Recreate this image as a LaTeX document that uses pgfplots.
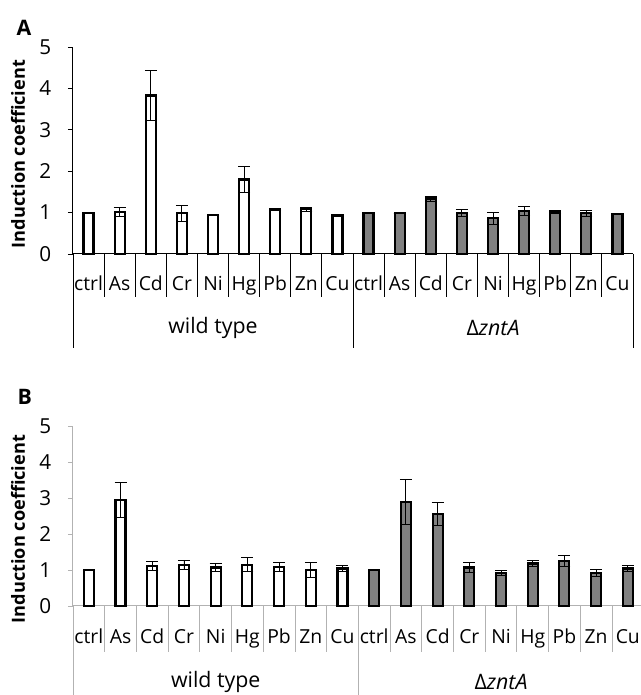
\documentclass[border=0pt]{standalone}
\usepackage{pgfplots}
\usepackage{pgfplotstable}
\pgfplotsset{compat=1.18}
\usepackage{fontspec}
\setmainfont{Open Sans}
\begin{document}
% panel A
\pgfplotstableread{
x y e
0 1.00 0.00
1 1.02 0.10
2 3.83 0.60
3 0.98 0.20
4 0.94 0.01
5 1.80 0.32
6 1.07 0.02
7 1.08 0.04
8 0.94 0.02
}\Awt
\pgfplotstableread{
x y e
9  1.00 0.00
10 0.98 0.00
11 1.34 0.06
12 0.99 0.09
13 0.86 0.14
14 1.04 0.11
15 1.01 0.04
16 0.98 0.065
17 0.96 0.01
}\Amut
% panel B
\pgfplotstableread{
x y e
0 1.00 0.00
1 2.94 0.49
2 1.12 0.13
3 1.15 0.12
4 1.07 0.11
5 1.15 0.20
6 1.08 0.12
7 1.00 0.20
8 1.04 0.09
}\Bwt
\pgfplotstableread{
x y e
9  1.00 0.00
10 2.90 0.62
11 2.55 0.32
12 1.07 0.13
13 0.92 0.07
14 1.18 0.08
15 1.25 0.16
16 0.92 0.10
17 1.04 0.09
}\Bmut
\begin{tikzpicture}
\path[use as bounding box] (0pt,0pt) rectangle (480pt,521.25pt);
\pgfplotsset{
  panel/.style={
    scale only axis, anchor=south west,
    xmin=-0.5, xmax=17.5, ymin=0, ymax=5,
    axis lines*=left, clip=false,
    ytick={0,...,5}, xtick={0,...,17},
    xticklabels={ctrl,As,Cd,Cr,Ni,Hg,Pb,Zn,Cu,ctrl,As,Cd,Cr,Ni,Hg,Pb,Zn,Cu},
    x tick style={draw=none},
    tick align=outside, major tick length=3.75pt,
    /pgf/number format/assume math mode=true,
    yticklabel style={font=\fontsize{15.5}{15.5}\selectfont, xshift=-9pt},
    xticklabel style={font=\fontsize{14.5}{14.5}\selectfont, anchor=base, yshift=-24pt},
    axis line style={line width=0.75pt},
    ybar, bar width=7.5pt, bar shift=0pt,
    error bars/error bar style={line width=0.6pt, black},
    error bars/error mark options={rotate=90, mark size=4.5pt, line width=0.6pt, black},
  },
  wtbar/.style={draw=black, fill=white, line width=1.6pt},
  mutbar/.style={draw=black, fill=gray!100, line width=1.6pt},
}
% ---------------- Panel A
\begin{axis}[panel, at={(54.75pt,330.75pt)}, width=420pt, height=155.25pt,
  axis line style={black}, y tick style={black, line width=0.6pt}]
\addplot[wtbar, error bars/.cd, y dir=both, y explicit] table[x=x, y=y, y error=e]{\Awt};
\addplot[mutbar, error bars/.cd, y dir=both, y explicit] table[x=x, y=y, y error=e]{\Amut};
\foreach \s in {0.5,1.5,...,16.5}{
  \edef\tmp{\noexpand\draw[black, line width=0.6pt] (axis cs:\s,0) -- (axis cs:\s,-1.04);}\tmp
}
\foreach \s in {-0.5,8.5,17.5}{
  \edef\tmp{\noexpand\draw[black, line width=0.6pt] (axis cs:\s,0) -- (axis cs:\s,-2.27);}\tmp
}
\node[font=\fontsize{16}{16}\selectfont] at (axis cs:4,-1.79) {wild type};
\node[font=\fontsize{16}{16}\selectfont] at (axis cs:13,-1.79) {Δ\textit{zntA}};
\end{axis}
% ---------------- Panel B
\begin{axis}[panel, at={(54.75pt,66.75pt)}, width=428pt, height=135pt,
  axis line style={gray!60}, y tick style={gray!60, line width=0.6pt}]
\addplot[wtbar, error bars/.cd, y dir=both, y explicit] table[x=x, y=y, y error=e]{\Bwt};
\addplot[mutbar, error bars/.cd, y dir=both, y explicit] table[x=x, y=y, y error=e]{\Bmut};
\foreach \s in {0.5,1.5,...,16.5}{
  \edef\tmp{\noexpand\draw[gray!60, line width=0.6pt] (axis cs:\s,0) -- (axis cs:\s,-1.28);}\tmp
}
\foreach \s in {-0.5,8.5,17.5}{
  \edef\tmp{\noexpand\draw[gray!60, line width=0.6pt] (axis cs:\s,0) -- (axis cs:\s,-2.7);}\tmp
}
\node[font=\fontsize{16}{16}\selectfont] at (axis cs:4,-2.11) {wild type};
\node[font=\fontsize{16}{16}\selectfont] at (axis cs:13,-2.11) {Δ\textit{zntA}};
\end{axis}
% labels
\node[font=\bfseries\fontsize{16}{16}\selectfont] at (18pt,500.5pt) {A};
\node[font=\bfseries\fontsize{16}{16}\selectfont] at (18.5pt,223.5pt) {B};
\node[font=\bfseries\fontsize{13.6}{13.6}\selectfont, rotate=90] at (13.5pt,405.75pt) {Induction coefficient};
\node[font=\bfseries\fontsize{13.6}{13.6}\selectfont, rotate=90] at (13.5pt,124.5pt) {Induction coefficient};
\end{tikzpicture}
\end{document}
